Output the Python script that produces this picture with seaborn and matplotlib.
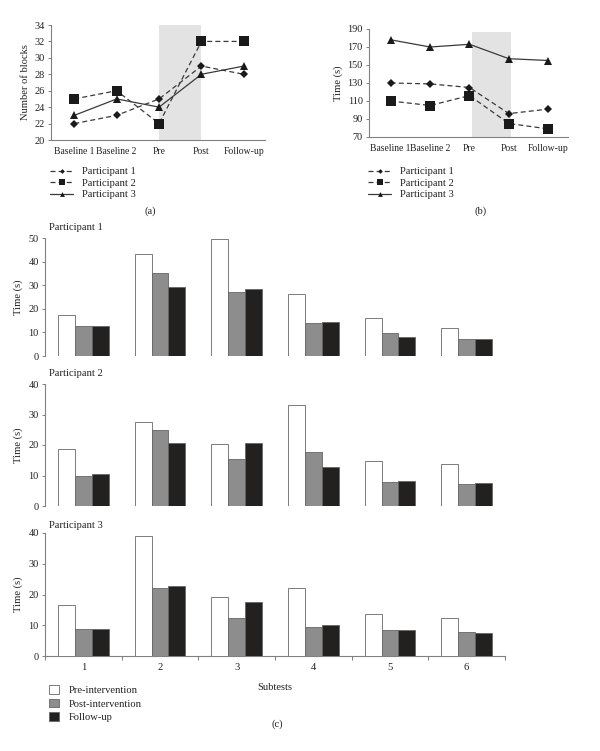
import numpy as np
import pandas as pd
import matplotlib
matplotlib.use("Agg")
import matplotlib.pyplot as plt
import seaborn as sns

# ---------------- data ----------------
phases = ["Baseline 1", "Baseline 2", "Pre", "Post", "Follow-up"]
participants = ["Participant 1", "Participant 2", "Participant 3"]

blocks_p1 = [22, 23, 25, 29, 28]
blocks_p2 = [25, 26, 22, 32, 32]
blocks_p3 = [23, 25, 24, 28, 29]

time_p1 = [130, 129, 125, 96, 101]
time_p2 = [110, 105, 116, 85, 79]
time_p3 = [178, 170, 173, 157, 155]

subtests = ["1", "2", "3", "4", "5", "6"]
conditions = ["Pre-intervention", "Post-intervention", "Follow-up"]

p1_pre = [17.3, 43.2, 49.6, 26.3, 16.3, 11.7]
p1_post = [12.8, 35.1, 27.0, 13.8, 9.6, 7.3]
p1_fol = [12.6, 29.4, 28.2, 14.5, 8.1, 7.1]

p2_pre = [18.8, 27.4, 20.3, 33.0, 14.6, 13.9]
p2_post = [9.9, 24.9, 15.3, 17.8, 7.8, 7.1]
p2_fol = [10.6, 20.5, 20.5, 12.7, 8.3, 7.5]

p3_pre = [16.7, 39.1, 19.3, 22.0, 13.7, 12.5]
p3_post = [8.7, 22.0, 12.3, 9.4, 8.3, 7.7]
p3_fol = [8.7, 22.9, 17.4, 10.2, 8.6, 7.5]

# ---------------- style ----------------
sns.set_style("ticks")
plt.rcParams["font.family"] = ["Liberation Serif", "DejaVu Serif"]
FS = 6.8
SPINE = "#808080"
plt.rcParams.update({
    "axes.edgecolor": SPINE,
    "axes.linewidth": 0.8,
    "xtick.color": SPINE,
    "ytick.color": SPINE,
    "xtick.labelcolor": "#222222",
    "ytick.labelcolor": "#222222",
    "xtick.major.size": 2.5,
    "ytick.major.size": 2.5,
    "xtick.major.width": 0.7,
    "ytick.major.width": 0.7,
    "xtick.major.pad": 3,
    "ytick.major.pad": 2,
    "font.size": FS,
    "axes.labelcolor": "#222222",
    "text.color": "#222222",
})

fig = plt.figure(figsize=(6.0, 7.51), dpi=100)

LINE_C = "#3a3a3a"
markers = ["D", "s", "^"]
msizes = [4.0, 6.6, 5.8]
styles = [(0, (4, 2.5)), (0, (4, 2.5)), "-"]


def W(x):
    return x / 600.0


def H(y):
    return 1 - y / 751.0


def line_panel(rect, series, ylim, yticks, ylabel, shade, shade_top, legend_xy, caption_xy, caption):
    ax = fig.add_axes(rect)
    x = np.arange(len(phases))
    ax.axvspan(shade[0], shade[1], ymin=0, ymax=(shade_top - ylim[0]) / (ylim[1] - ylim[0]),
               color="#e3e3e3", zorder=0, lw=0)
    for name, vals, mk, ms, ls in zip(participants, series, markers, msizes, styles):
        df = pd.DataFrame({"x": x, "y": vals})
        sns.lineplot(data=df, x="x", y="y", ax=ax, color=LINE_C, lw=0.9,
                     linestyle=ls, marker=mk, markersize=ms, markeredgewidth=0,
                     markerfacecolor="#1a1a1a", label=name, legend=False, zorder=3)
    ax.set_xlim(-0.55, 4.5)
    ax.set_ylim(*ylim)
    ax.set_yticks(yticks)
    ax.set_xticks(x)
    ax.set_xticklabels(phases, fontsize=FS + 0.1)
    ax.tick_params(axis="x", length=0, pad=5)
    ax.tick_params(axis="y", labelsize=FS + 0.6)
    ax.set_xlabel("")
    ax.set_ylabel(ylabel, fontsize=FS + 0.8, labelpad=3)
    sns.despine(ax=ax)
    handles, labels = ax.get_legend_handles_labels()
    fig.legend(handles, labels, loc="upper left", bbox_to_anchor=legend_xy,
               frameon=False, fontsize=FS + 0.8, handlelength=2.2, handletextpad=0.8,
               labelspacing=0.2, borderpad=0, borderaxespad=0, markerscale=0.6)
    fig.text(caption_xy[0], caption_xy[1], caption, ha="center", va="center", fontsize=FS + 0.8)
    return ax


line_panel([W(51), H(140), W(265 - 51), (140 - 25) / 751.0],
           [blocks_p1, blocks_p2, blocks_p3], (20, 34), np.arange(20, 35, 2),
           "Number of blocks", (2.0, 3.0), 34, (W(50), H(167)), (W(150), H(211)), "(a)")

line_panel([W(369), H(137), W(568 - 369), (137 - 29) / 751.0],
           [time_p1, time_p2, time_p3], (70, 190), np.arange(70, 191, 20),
           "Time (s)", (2.07, 3.05), 187, (W(368), H(167)), (W(481), H(211)), "(b)")

# ---------------- bar panels ----------------
bar_colors = ["#ffffff", "#8d8d8d", "#231f20"]
bar_sets = [
    ("Participant 1", p1_pre, p1_post, p1_fol, 238, 356, 50, 227),
    ("Participant 2", p2_pre, p2_post, p2_fol, 384, 506, 40, 374),
    ("Participant 3", p3_pre, p3_post, p3_fol, 533, 656, 40, 525),
]

bar_axes = []
for i, (title, pre, post, fol, ytop, ybot, ymax, ty) in enumerate(bar_sets):
    ax = fig.add_axes([W(45), H(ybot), W(505 - 45), (ybot - ytop) / 751.0])
    df = pd.DataFrame({
        "Subtest": subtests * 3,
        "Condition": [conditions[0]] * 6 + [conditions[1]] * 6 + [conditions[2]] * 6,
        "Time": pre + post + fol,
    })
    sns.barplot(data=df, x="Subtest", y="Time", hue="Condition", hue_order=conditions,
                palette=bar_colors, ax=ax, width=0.66, gap=0, edgecolor="#666666",
                linewidth=0.6, errorbar=None, legend=(i == 2), zorder=3)
    ax.set_xlim(-0.5, 5.5)
    ax.set_ylim(0, ymax)
    ax.set_yticks(np.arange(0, ymax + 1, 10))
    ax.tick_params(axis="y", labelsize=FS + 0.6)
    ax.set_ylabel("Time (s)", fontsize=FS + 0.8, labelpad=4)
    fig.text(W(49), H(ty), title, ha="left", va="center", fontsize=FS + 0.8)
    sns.despine(ax=ax)
    if i < 2:
        ax.spines["bottom"].set_visible(False)
        ax.set_xticks([])
        ax.set_xlabel("")
    else:
        ax.set_xticks(np.arange(-0.5, 6.0, 1.0), minor=False)
        ax.set_xticklabels([""] * 7)
        ax.set_xticks(np.arange(6), minor=True)
        ax.set_xticklabels(subtests, minor=True, fontsize=FS + 0.8)
        ax.tick_params(axis="x", which="major", length=3, direction="out")
        ax.tick_params(axis="x", which="minor", length=0, pad=5)
        ax.set_xlabel("Subtests", fontsize=FS + 0.8, labelpad=8)
        handles, labels = ax.get_legend_handles_labels()
        ax.get_legend().remove()
        fig.legend(handles, labels, loc="upper left", bbox_to_anchor=(W(49), H(685)),
                   frameon=False, fontsize=FS + 0.8, handlelength=0.9, handleheight=0.9,
                   handletextpad=1.0, labelspacing=0.35, borderpad=0, borderaxespad=0)
    bar_axes.append(ax)

fig.text(W(277), H(724), "(c)", ha="center", va="center", fontsize=FS + 0.8)

fig.savefig("out.png", dpi=100, facecolor="white")
